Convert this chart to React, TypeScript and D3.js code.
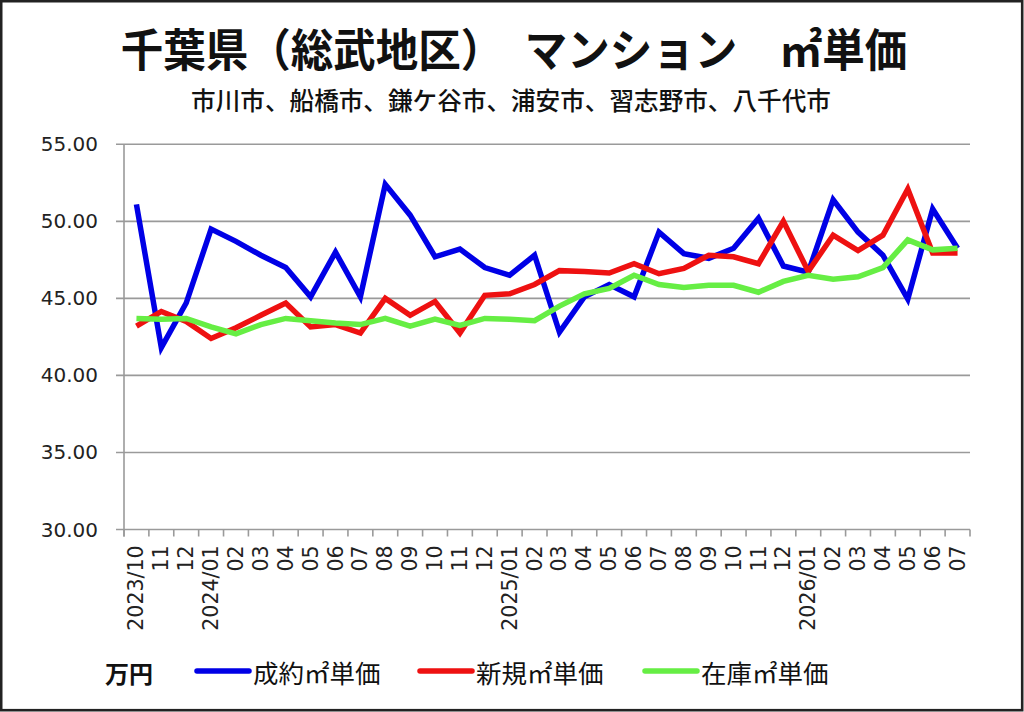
import React from "react";
import * as d3 from "d3";

const months: string[] = [
  "2023/10", "11", "12", "2024/01", "02", "03", "04", "05", "06", "07", "08", "09", "10", "11", "12",
  "2025/01", "02", "03", "04", "05", "06", "07", "08", "09", "10", "11", "12",
  "2026/01", "02", "03", "04", "05", "06", "07",
];

const seiyaku: number[] = [
  51.1, 41.8, 44.7, 49.5, 48.7, 47.8, 47.0, 45.1, 48.0, 45.1, 52.4, 50.4, 47.7, 48.2, 47.0, 46.5, 47.8,
  42.8, 45.1, 45.9, 45.1, 49.3, 47.9, 47.6, 48.25, 50.2, 47.1, 46.7, 51.4, 49.3, 47.8, 44.95, 50.8, 48.25,
];

const shinki: number[] = [
  43.2, 44.15, 43.5, 42.4, 43.1, 43.9, 44.7, 43.15, 43.3, 42.75, 45.0, 43.9, 44.8, 42.75, 45.2, 45.3, 45.9,
  46.8, 46.75, 46.65, 47.25, 46.6, 46.95, 47.8, 47.7, 47.25, 50.0, 46.75, 49.1, 48.1, 49.1, 52.1, 47.95, 47.95,
];

const zaiko: number[] = [
  43.7, 43.65, 43.7, 43.15, 42.7, 43.3, 43.7, 43.55, 43.4, 43.3, 43.7, 43.2, 43.65, 43.25, 43.7, 43.65, 43.55,
  44.5, 45.3, 45.65, 46.5, 45.9, 45.7, 45.85, 45.85, 45.4, 46.1, 46.5, 46.25, 46.4, 47.0, 48.8, 48.15, 48.25,
];

const yTicks: number[] = [30, 35, 40, 45, 50, 55];

const seriesNames: string[] = ["成約㎡単価", "新規㎡単価", "在庫㎡単価"];
const seriesColors: string[] = ["#0000e6", "#ee1111", "#66ee44"];

const W = 1024;
const H = 712;
const plotLeft = 124;
const plotRight = 970;
const plotTop = 144.3;
const plotBottom = 529.5;

const CJK = "'Noto Sans CJK JP', 'Noto Sans', sans-serif";
const NUM = "'DejaVu Sans', Verdana, sans-serif";

export default function App() {
  const x = d3
    .scaleBand<number>()
    .domain(d3.range(months.length))
    .range([plotLeft, plotRight])
    .paddingInner(0)
    .paddingOuter(0);
  const y = d3.scaleLinear().domain([30, 55]).range([plotBottom, plotTop]);
  const cx = (i: number) => (x(i) as number) + x.bandwidth() / 2;

  const line = d3
    .line<number>()
    .x((_, i) => cx(i))
    .y((d) => y(d));

  const allSeries = [seiyaku, shinki, zaiko];
  const boundaries = d3.range(months.length + 1).map((i) => plotLeft + i * x.bandwidth());

  const legendItems = [
    { lx: 197, tx: 253 },
    { lx: 420, tx: 476 },
    { lx: 645, tx: 701 },
  ];

  return (
    <svg
      width={W}
      height={H}
      style={{ position: "absolute", left: 0, top: 0, background: "#fff" }}
      xmlns="http://www.w3.org/2000/svg"
    >
      <rect x={0} y={0} width={W} height={H} fill="#fff" />
      <rect x={1.2} y={1.2} width={1021} height={709} fill="none" stroke="#222" strokeWidth={2.6} />

      <g transform="translate(514,67) scale(0.945,1)">
        <text
          x={0}
          y={0}
          textAnchor="middle"
          fontFamily={CJK}
          fontWeight={700}
          fontSize={45}
          fill="#111"
        >
          千葉県（総武地区）　マンション　㎡単価
        </text>
      </g>
      <g transform="translate(511,110) scale(0.985,1)">
        <text
          x={0}
          y={0}
          textAnchor="middle"
          fontFamily={CJK}
          fontWeight={500}
          fontSize={25}
          fill="#111"
        >
          市川市、船橋市、鎌ケ谷市、浦安市、習志野市、八千代市
        </text>
      </g>

      {/* grid lines */}
      {yTicks.map((t) => (
        <g key={t}>
          <line x1={116} x2={plotRight} y1={y(t)} y2={y(t)} stroke="#9a9a9a" strokeWidth={1.6} />
          <text
            x={98}
            y={y(t)}
            textAnchor="end"
            dominantBaseline="central"
            fontFamily={NUM}
            fontSize={20}
            fill="#222"
          >
            {t.toFixed(2)}
          </text>
        </g>
      ))}

      {/* y axis */}
      <line x1={plotLeft} x2={plotLeft} y1={plotTop} y2={plotBottom + 7} stroke="#9a9a9a" strokeWidth={1.6} />

      {/* x ticks */}
      {boundaries.map((bx, i) => (
        <line key={i} x1={bx} x2={bx} y1={plotBottom} y2={plotBottom + 7} stroke="#9a9a9a" strokeWidth={1.6} />
      ))}

      {/* x labels */}
      {months.map((m, i) => (
        <text
          key={i}
          transform={`translate(${cx(i)},${plotBottom + 16}) rotate(-90)`}
          textAnchor="end"
          dominantBaseline="central"
          fontFamily={NUM}
          fontSize={20.5}
          fill="#222"
        >
          {m}
        </text>
      ))}

      {/* series */}
      {allSeries.map((s, k) => (
        <path
          key={k}
          d={line(s) as string}
          fill="none"
          stroke={seriesColors[k]}
          strokeWidth={5.5}
          strokeLinejoin="miter"
          strokeMiterlimit={4}
        />
      ))}

      {/* legend */}
      <text x={105} y={672} dominantBaseline="central" fontFamily={CJK} fontWeight={700} fontSize={24} fill="#111">
        万円
      </text>
      {legendItems.map((it, k) => (
        <g key={k}>
          <line
            x1={it.lx}
            x2={it.lx + 52}
            y1={671}
            y2={671}
            stroke={seriesColors[k]}
            strokeWidth={5.5}
            strokeLinecap="round"
          />
          <text
            x={it.tx}
            y={671}
            dominantBaseline="central"
            fontFamily={CJK}
            fontSize={25.5}
            fill="#111"
          >
            {seriesNames[k]}
          </text>
        </g>
      ))}
    </svg>
  );
}
